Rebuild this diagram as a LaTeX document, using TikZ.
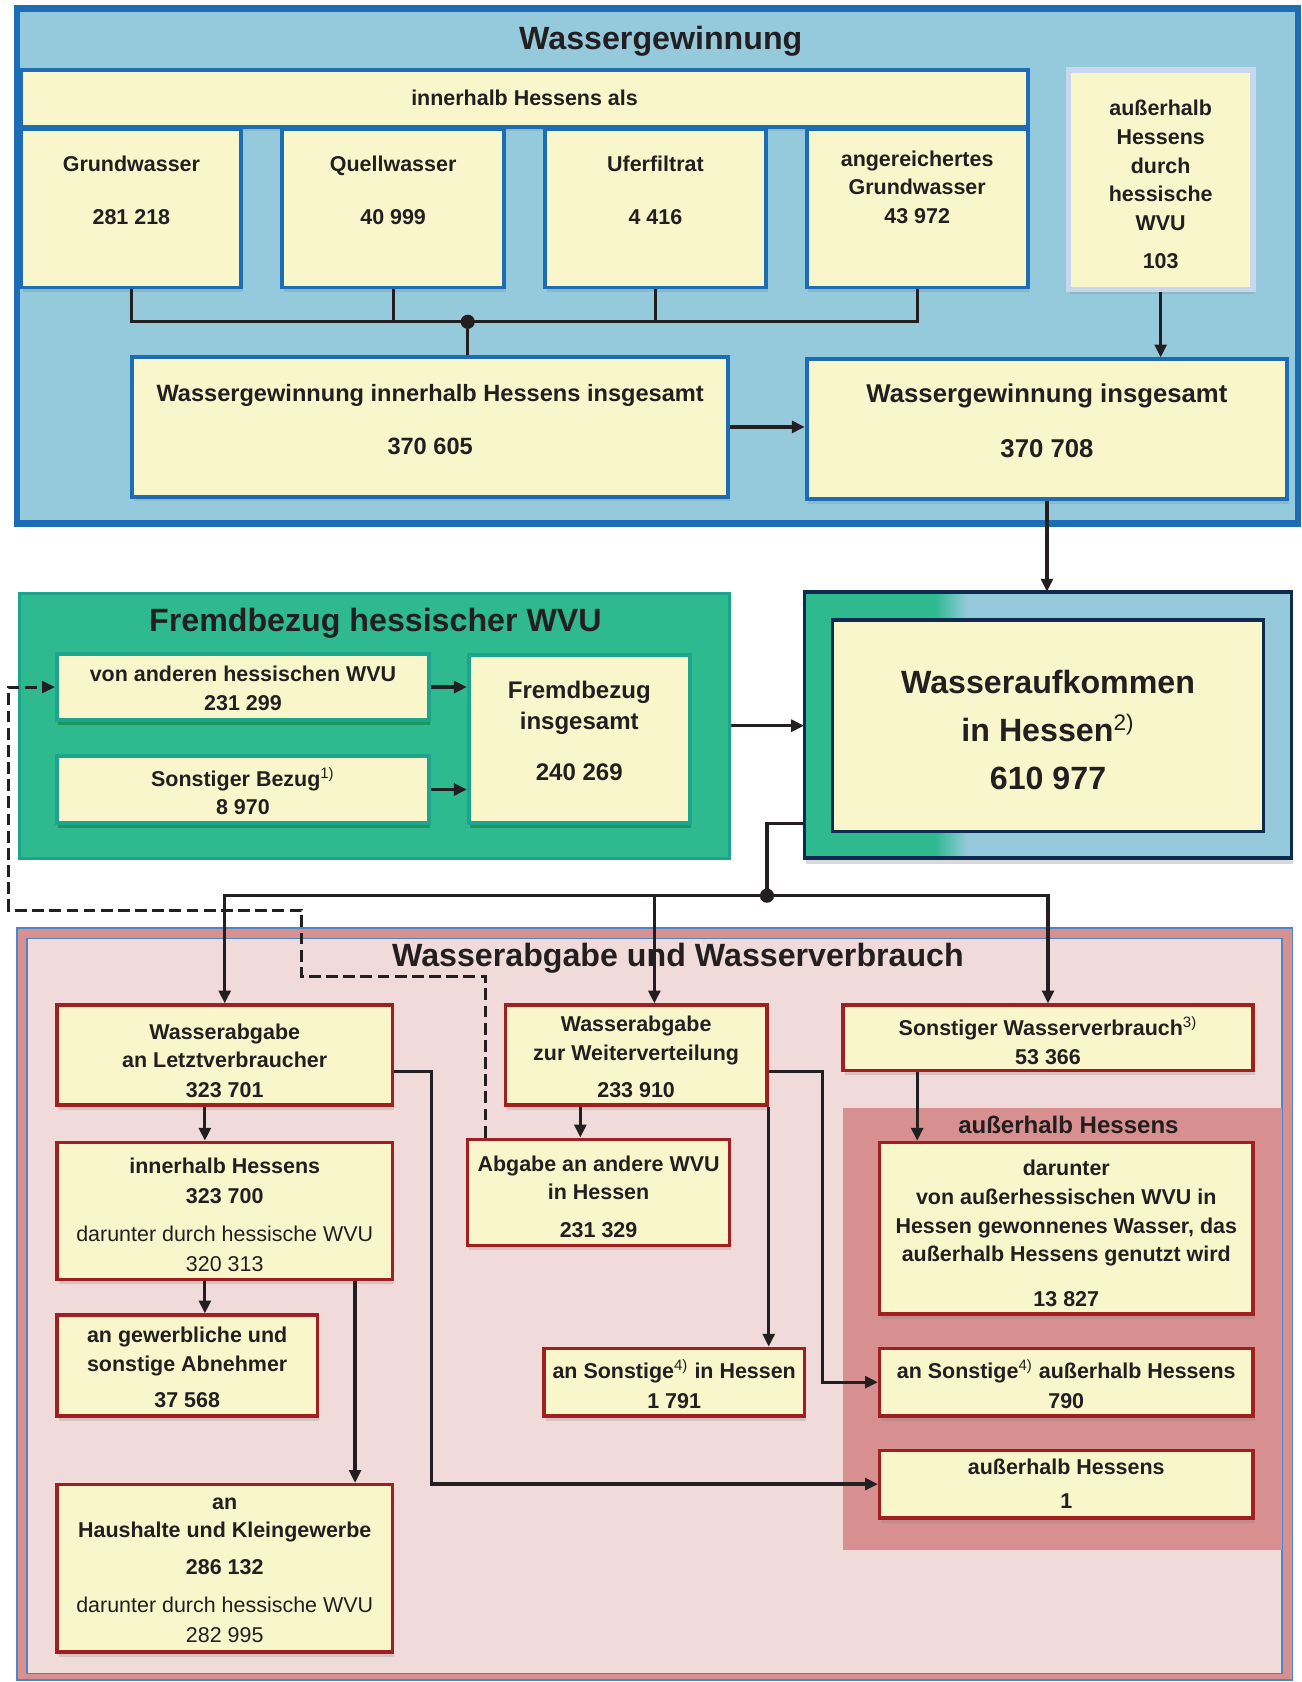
\documentclass[tikz,border=0pt]{standalone}
\usepackage{fontspec}
\setmainfont{Liberation Sans}
\usetikzlibrary{arrows.meta,fit,shadows}

\definecolor{wgblue}{RGB}{28,108,182}
\definecolor{wgfill}{RGB}{148,202,220}
\definecolor{cream}{RGB}{250,246,204}
\definecolor{fbgreen}{RGB}{46,185,143}
\definecolor{fbedge}{RGB}{28,165,140}
\definecolor{navy}{RGB}{14,42,80}
\definecolor{rim}{RGB}{216,143,143}
\definecolor{wafill}{RGB}{240,218,218}
\definecolor{waedge}{RGB}{74,134,200}
\definecolor{redge}{RGB}{160,32,32}
\definecolor{lightedge}{RGB}{200,215,236}
\definecolor{ink}{RGB}{35,31,32}

\begin{document}
\begin{tikzpicture}[x=0.5pt,y=-0.5pt, line join=miter, >={Triangle[length=6pt,width=5.5pt]},
	every node/.style={text=ink},
	panel/.style={inner sep=0pt},
	shadowed/.style={drop shadow={opacity=0.25,shadow xshift=0.8pt,shadow yshift=-2.2pt}},
	bluebox/.style={panel, draw=wgblue, line width=1.8pt, fill=cream, shadowed},
	greenbox/.style={panel, draw=fbedge, line width=1.8pt, fill=cream, drop shadow={opacity=0.35,fill=green!35!black,shadow xshift=0.6pt,shadow yshift=-2.5pt}},
	redbox/.style={panel, draw=redge, line width=1.6pt, fill=cream, shadowed},
	txt/.style={align=center, inner sep=0pt, font=\fontsize{10}{13.3}\selectfont\bfseries},
	ttl/.style={inner sep=0pt, font=\fontsize{15}{18}\selectfont\bfseries},
	conn/.style={draw=ink, line width=1.5pt},
	dashline/.style={draw=ink, line width=1.4pt, dash pattern=on 5.5pt off 2.5pt}]
	\useasboundingbox (0,0) rectangle (1213,1568);
	% Wassergewinnung
	\node[panel, draw=wgblue, line width=3pt, fill=wgfill, fit={(16,8) (1210,488)}] (wgpanel) {};
	\node[ttl] (wgtitle) at (616,38) {Wassergewinnung};
	\node[bluebox, fit={(20,65) (958,118)}] (als) {};
	\node[txt] (alsT) at (als) {innerhalb Hessens als};
	\node[bluebox, fit={(20,120) (225,268)}] (grund) {};
	\node[txt] (grundT) at (122.5,177.5) {Grundwasser\\[11.2pt]281 218};
	\node[bluebox, fit={(263,120) (470,268)}] (quell) {};
	\node[txt] (quellT) at (366.5,177.5) {Quellwasser\\[11.2pt]40 999};
	\node[bluebox, fit={(508,120) (714,268)}] (ufer) {};
	\node[txt] (uferT) at (611,177.5) {Uferfiltrat\\[11.2pt]4 416};
	\node[bluebox, fit={(752,120) (958,268)}] (anger) {};
	\node[txt] (angerT) at (855,174.5) {angereichertes\\Grundwasser\\43 972};
	\node[panel, draw=lightedge, line width=2.6pt, fill=cream, shadowed, fit={(996,65) (1168,270)}] (ausser) {};
	\node[txt] (ausserT) at (1082,172) {außerhalb\\Hessens\\durch\\hessische\\WVU\\[4.5pt]103};
	\node[bluebox, fit={(123,333) (679,463)}] (innen) {};
	\node[txt, font=\fontsize{11}{14}\selectfont\bfseries] (innenT) at (401,391) {Wassergewinnung innerhalb Hessens insgesamt\\[11pt]370 605};
	\node[bluebox, fit={(752,335) (1200,465)}] (gesamt) {};
	\node[txt, font=\fontsize{12}{15}\selectfont\bfseries] (gesamtT) at (976,392.5) {Wassergewinnung insgesamt\\[10.5pt]370 708};
	\coordinate (jn) at (436,300);
	\draw[conn] (grund.south) |- (jn) -| (anger.south);
	\draw[conn] (quell.south) -- (quell.south |- jn);
	\draw[conn] (ufer.south) -- (ufer.south |- jn);
	\draw[conn] (jn) -- (jn |- innen.north);
	\fill[ink] (jn) circle (3.3pt);
	\draw[conn,->] (innen.east) -- (innen.east -| gesamt.west);
	\draw[conn,->] (ausser.south) -- (ausser.south |- gesamt.north);

	% Fremdbezug
	\node[panel, draw=fbedge, line width=1.5pt, fill=fbgreen, fit={(18,553) (680,800)}] (fbpanel) {};
	\node[ttl] (fbtitle) at (350,581) {Fremdbezug hessischer WVU};
	\node[greenbox, fit={(53,610) (400,671)}] (vonand) {};
	\node[txt] (vonandT) at (226.5,641.5) {von anderen hessischen WVU\\231 299};
	\node[greenbox, fit={(53,705) (400,767)}] (sonstB) {};
	\node[txt] (sonstBT) at (226.5,737.5) {Sonstiger Bezug\textsuperscript{\mdseries 1)}\\8 970};
	\node[greenbox, fit={(437,611) (643,767)}] (fbges) {};
	\node[txt, font=\fontsize{11.2}{14.5}\selectfont\bfseries] (fbgesT) at (540,681.5) {Fremdbezug\\insgesamt\\[9.5pt]240 269};
	\draw[conn,->] (vonand.east) -- (vonand.east -| fbges.west);
	\draw[conn,->] (sonstB.east) -- (sonstB.east -| fbges.west);

	% Wasseraufkommen
	\node[panel, fill=wgfill, drop shadow={opacity=0.3,shadow xshift=0.8pt,shadow yshift=-2.5pt}, fit={(750,552) (1204,800)}] (aufk) {};
	\fill[fbgreen] (750,552) rectangle (872,800);
	\shade[left color=fbgreen, right color=wgfill] (871,552) rectangle (902,800);
	\draw[navy, line width=1.6pt] (750,552) rectangle (1204,800);
	\node[panel, draw=navy, line width=1.6pt, fill=cream, fit={(776,578) (1178,775)}] (aufkin) {};
	\node[txt, font=\fontsize{15}{22.3}\selectfont\bfseries] (aufkT) at (977,680.5) {Wasseraufkommen\\in Hessen\textsuperscript{\mdseries 2)}\\610 977};
	\draw[conn,->] (gesamt.south) -- (gesamt.south |- aufk.north);
	\draw[conn,->] (fbpanel.east) -- (fbpanel.east -| aufk.west);

	% Wasserabgabe und Wasserverbrauch
	\node[panel, draw=waedge, line width=0.8pt, fill=rim, fit={(16,865) (1205,1566)}] (warim) {};
	\node[panel, draw=waedge, line width=0.8pt, fill=wafill, fit={(25,875) (1195,1560)}] (wapanel) {};
	\node[ttl] (watitle) at (632,893) {Wasserabgabe und Wasserverbrauch};
	\node[panel, fill=rim, fit={(786,1033) (1195,1445)}] (ausH) {};
	\node[txt, font=\fontsize{11.2}{14}\selectfont\bfseries] (ausHT) at (996,1049) {außerhalb Hessens};

	\node[redbox, fit={(53,937) (366,1030)}] (letzt) {};
	\node[txt] (letztT) at (209.5,989) {Wasserabgabe\\an Letztverbraucher\\[0.8pt]323 701};
	\node[redbox, fit={(471,937) (715,1030)}] (weiter) {};
	\node[txt] (weiterT) at (593,985.5) {Wasserabgabe\\zur Weiterverteilung\\[4.2pt]233 910};
	\node[redbox, fit={(786,937) (1168,998)}] (sonstv) {};
	\node[txt] (sonstvT) at (977,970) {Sonstiger Wasserverbrauch\textsuperscript{\mdseries 3)}\\53 366};
	\node[redbox, fit={(53,1065) (366,1193)}] (innH) {};
	\node[txt] (innHT) at (209.5,1132.5) {innerhalb Hessens\\[0.7pt]323 700\\[4pt]{\mdseries darunter durch hessische WVU}\\[0.7pt]{\mdseries 320 313}};
	\node[redbox, fit={(436,1062) (680,1161)}] (abgabe) {};
	\node[txt] (abgabeT) at (558,1115.5) {Abgabe an andere WVU\\in Hessen\\[4.2pt]231 329};
	\node[redbox, fit={(820,1065) (1168,1225)}] (darB) {};
	\node[txt] (darBT) at (994,1150) {darunter\\von außerhessischen WVU in\\Hessen gewonnenes Wasser, das\\außerhalb Hessens genutzt wird\\[7.7pt]13 827};
	\node[redbox, fit={(53,1226) (296,1320)}] (gewerb) {};
	\node[txt] (gewerbT) at (174.5,1275) {an gewerbliche und\\sonstige Abnehmer\\[3.7pt]37 568};
	\node[redbox, fit={(507,1257) (750,1320)}] (sonstIn) {};
	\node[txt] (sonstInT) at (628.5,1290) {an Sonstige\textsuperscript{\mdseries 4)} in Hessen\\[0.7pt]1 791};
	\node[redbox, fit={(820,1257) (1168,1320)}] (sonstAus) {};
	\node[txt] (sonstAusT) at (994,1290) {an Sonstige\textsuperscript{\mdseries 4)} außerhalb Hessens\\[0.7pt]790};
	\node[redbox, fit={(820,1352) (1168,1415)}] (ausEins) {};
	\node[txt] (ausEinsT) at (994,1383) {außerhalb Hessens\\[2.7pt]1};
	\node[redbox, fit={(53,1384) (366,1540)}] (haus) {};
	\node[txt] (hausT) at (209.5,1464) {an\\Haushalte und Kleingewerbe\\[3.7pt]286 132\\[4.7pt]{\mdseries darunter durch hessische WVU}\\[0.7pt]{\mdseries 282 995}};

	% Verteilung
	\coordinate (split) at (715,835);
	\coordinate (wtop) at (610,835);
	\draw[conn] ([yshift=-46pt]aufk.west) -| (split);
	\draw[conn,->] (split) -| (letzt.north);
	\draw[conn,->] (split) -| (sonstv.north);
	\draw[conn,->] (wtop) -- (wtop |- weiter.north);
	\fill[ink] (split) circle (3.3pt);
	\draw[conn,->] ([xshift=-9.25pt]letzt.south) -- ([xshift=-9.25pt]letzt.south |- innH.north);
	\draw[conn,->] ([xshift=-9.25pt]innH.south) -- ([xshift=-9.25pt]innH.south |- gewerb.north);
	\draw[conn,->] ([xshift=60.75pt]innH.south) -- ([xshift=60.75pt]innH.south |- haus.north);
	\draw[conn,->] ([yshift=-7.75pt]letzt.east) -- ++(35,0) |- (ausEins.west);
	\draw[conn,->] ([xshift=-26pt]weiter.south) -- ([xshift=-26pt]weiter.south |- abgabe.north);
	\draw[conn,->] ([yshift=-7.75pt]weiter.east) -- ++(50,0) |- (sonstAus.west);
	\draw[conn,->] (weiter.south east) -- (weiter.south east |- sonstIn.north);
	\draw[conn,->] ([xshift=-61pt]sonstv.south) -- ([xshift=-61pt]sonstv.south |- darB.north);
	\draw[dashline,->] ([xshift=-52.5pt]abgabe.north) |- ++(-172,-150) |- ++(-273,-62) |- (vonand.west);
\end{tikzpicture}
\end{document}
